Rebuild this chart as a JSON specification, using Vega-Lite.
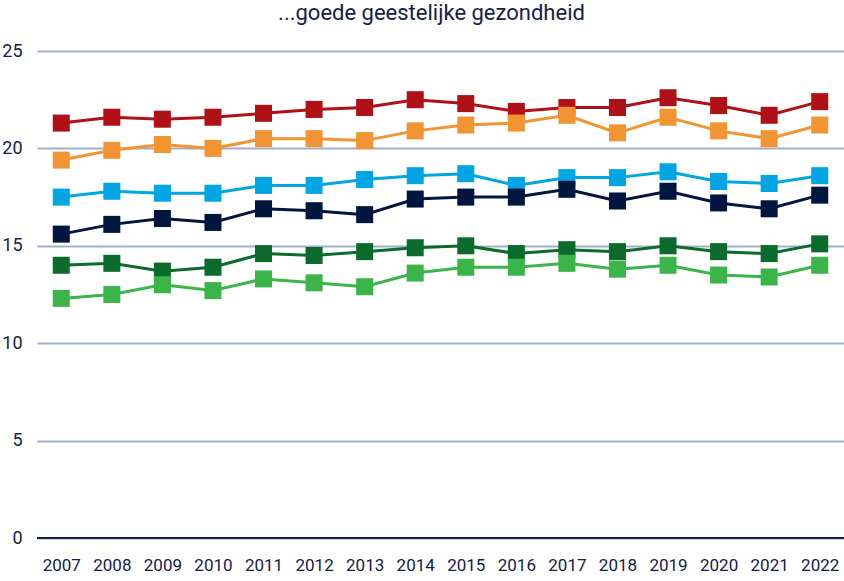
{
  "$schema": "https://vega.github.io/schema/vega-lite/v6.json",
  "autosize": "none",
  "width": 807,
  "height": 487,
  "padding": {"left": 37, "top": 51, "right": 0, "bottom": 43},
  "background": "white",
  "title": {
    "text": "...goede geestelijke gezondheid",
    "font": "Roboto",
    "fontSize": 22,
    "fontWeight": "normal",
    "color": "#14204a",
    "anchor": "middle",
    "offset": 17,
    "dx": -9
  },
  "config": {
    "view": {"stroke": null},
    "axis": {"labelFont": "Roboto", "labelColor": "#14204a"}
  },
  "datasets": {
    "d": [
      {"jaar": "2007", "groep": "A", "waarde": 21.3},
      {"jaar": "2008", "groep": "A", "waarde": 21.6},
      {"jaar": "2009", "groep": "A", "waarde": 21.5},
      {"jaar": "2010", "groep": "A", "waarde": 21.6},
      {"jaar": "2011", "groep": "A", "waarde": 21.8},
      {"jaar": "2012", "groep": "A", "waarde": 22.0},
      {"jaar": "2013", "groep": "A", "waarde": 22.1},
      {"jaar": "2014", "groep": "A", "waarde": 22.5},
      {"jaar": "2015", "groep": "A", "waarde": 22.3},
      {"jaar": "2016", "groep": "A", "waarde": 21.9},
      {"jaar": "2017", "groep": "A", "waarde": 22.1},
      {"jaar": "2018", "groep": "A", "waarde": 22.1},
      {"jaar": "2019", "groep": "A", "waarde": 22.6},
      {"jaar": "2020", "groep": "A", "waarde": 22.2},
      {"jaar": "2021", "groep": "A", "waarde": 21.7},
      {"jaar": "2022", "groep": "A", "waarde": 22.4},
      {"jaar": "2007", "groep": "B", "waarde": 19.4},
      {"jaar": "2008", "groep": "B", "waarde": 19.9},
      {"jaar": "2009", "groep": "B", "waarde": 20.2},
      {"jaar": "2010", "groep": "B", "waarde": 20.0},
      {"jaar": "2011", "groep": "B", "waarde": 20.5},
      {"jaar": "2012", "groep": "B", "waarde": 20.5},
      {"jaar": "2013", "groep": "B", "waarde": 20.4},
      {"jaar": "2014", "groep": "B", "waarde": 20.9},
      {"jaar": "2015", "groep": "B", "waarde": 21.2},
      {"jaar": "2016", "groep": "B", "waarde": 21.3},
      {"jaar": "2017", "groep": "B", "waarde": 21.7},
      {"jaar": "2018", "groep": "B", "waarde": 20.8},
      {"jaar": "2019", "groep": "B", "waarde": 21.6},
      {"jaar": "2020", "groep": "B", "waarde": 20.9},
      {"jaar": "2021", "groep": "B", "waarde": 20.5},
      {"jaar": "2022", "groep": "B", "waarde": 21.2},
      {"jaar": "2007", "groep": "C", "waarde": 17.5},
      {"jaar": "2008", "groep": "C", "waarde": 17.8},
      {"jaar": "2009", "groep": "C", "waarde": 17.7},
      {"jaar": "2010", "groep": "C", "waarde": 17.7},
      {"jaar": "2011", "groep": "C", "waarde": 18.1},
      {"jaar": "2012", "groep": "C", "waarde": 18.1},
      {"jaar": "2013", "groep": "C", "waarde": 18.4},
      {"jaar": "2014", "groep": "C", "waarde": 18.6},
      {"jaar": "2015", "groep": "C", "waarde": 18.7},
      {"jaar": "2016", "groep": "C", "waarde": 18.1},
      {"jaar": "2017", "groep": "C", "waarde": 18.5},
      {"jaar": "2018", "groep": "C", "waarde": 18.5},
      {"jaar": "2019", "groep": "C", "waarde": 18.8},
      {"jaar": "2020", "groep": "C", "waarde": 18.3},
      {"jaar": "2021", "groep": "C", "waarde": 18.2},
      {"jaar": "2022", "groep": "C", "waarde": 18.6},
      {"jaar": "2007", "groep": "D", "waarde": 15.6},
      {"jaar": "2008", "groep": "D", "waarde": 16.1},
      {"jaar": "2009", "groep": "D", "waarde": 16.4},
      {"jaar": "2010", "groep": "D", "waarde": 16.2},
      {"jaar": "2011", "groep": "D", "waarde": 16.9},
      {"jaar": "2012", "groep": "D", "waarde": 16.8},
      {"jaar": "2013", "groep": "D", "waarde": 16.6},
      {"jaar": "2014", "groep": "D", "waarde": 17.4},
      {"jaar": "2015", "groep": "D", "waarde": 17.5},
      {"jaar": "2016", "groep": "D", "waarde": 17.5},
      {"jaar": "2017", "groep": "D", "waarde": 17.9},
      {"jaar": "2018", "groep": "D", "waarde": 17.3},
      {"jaar": "2019", "groep": "D", "waarde": 17.8},
      {"jaar": "2020", "groep": "D", "waarde": 17.2},
      {"jaar": "2021", "groep": "D", "waarde": 16.9},
      {"jaar": "2022", "groep": "D", "waarde": 17.6},
      {"jaar": "2007", "groep": "E", "waarde": 14.0},
      {"jaar": "2008", "groep": "E", "waarde": 14.1},
      {"jaar": "2009", "groep": "E", "waarde": 13.7},
      {"jaar": "2010", "groep": "E", "waarde": 13.9},
      {"jaar": "2011", "groep": "E", "waarde": 14.6},
      {"jaar": "2012", "groep": "E", "waarde": 14.5},
      {"jaar": "2013", "groep": "E", "waarde": 14.7},
      {"jaar": "2014", "groep": "E", "waarde": 14.9},
      {"jaar": "2015", "groep": "E", "waarde": 15.0},
      {"jaar": "2016", "groep": "E", "waarde": 14.6},
      {"jaar": "2017", "groep": "E", "waarde": 14.8},
      {"jaar": "2018", "groep": "E", "waarde": 14.7},
      {"jaar": "2019", "groep": "E", "waarde": 15.0},
      {"jaar": "2020", "groep": "E", "waarde": 14.7},
      {"jaar": "2021", "groep": "E", "waarde": 14.6},
      {"jaar": "2022", "groep": "E", "waarde": 15.1},
      {"jaar": "2007", "groep": "F", "waarde": 12.3},
      {"jaar": "2008", "groep": "F", "waarde": 12.5},
      {"jaar": "2009", "groep": "F", "waarde": 13.0},
      {"jaar": "2010", "groep": "F", "waarde": 12.7},
      {"jaar": "2011", "groep": "F", "waarde": 13.3},
      {"jaar": "2012", "groep": "F", "waarde": 13.1},
      {"jaar": "2013", "groep": "F", "waarde": 12.9},
      {"jaar": "2014", "groep": "F", "waarde": 13.6},
      {"jaar": "2015", "groep": "F", "waarde": 13.9},
      {"jaar": "2016", "groep": "F", "waarde": 13.9},
      {"jaar": "2017", "groep": "F", "waarde": 14.1},
      {"jaar": "2018", "groep": "F", "waarde": 13.8},
      {"jaar": "2019", "groep": "F", "waarde": 14.0},
      {"jaar": "2020", "groep": "F", "waarde": 13.5},
      {"jaar": "2021", "groep": "F", "waarde": 13.4},
      {"jaar": "2022", "groep": "F", "waarde": 14.0}
    ],
    "nul": [{"y": 0}]
  },
  "layer": [
    {
      "data": {"name": "d"},
      "mark": {"type": "line", "strokeWidth": 3},
      "encoding": {
        "x": {
          "field": "jaar", "type": "ordinal",
          "scale": {"type": "point", "padding": 0.48},
          "axis": {"title": null, "domain": false, "ticks": false, "labelAngle": 0, "labelPadding": 19, "labelFontSize": 17}
        },
        "y": {
          "field": "waarde", "type": "quantitative",
          "scale": {"domain": [0, 25], "nice": false},
          "axis": {"title": null, "values": [0, 5, 10, 15, 20, 25], "domain": false, "ticks": false, "labelPadding": 15, "gridColor": "#9fafc8", "gridWidth": 2, "labelFontSize": 18}
        },
        "color": {
          "field": "groep", "type": "nominal",
          "scale": {"domain": ["A", "B", "C", "D", "E", "F"], "range": ["#b01117", "#f39433", "#00a5e3", "#00163f", "#0b6b2c", "#3bb54a"]},
          "legend": null
        }
      }
    },
    {
      "data": {"name": "nul"},
      "mark": {"type": "rule", "color": "#14204a", "strokeWidth": 2},
      "encoding": {"y": {"field": "y", "type": "quantitative"}}
    },
    {
      "data": {"name": "d"},
      "mark": {"type": "point", "shape": "square", "filled": true, "opacity": 1, "size": 290},
      "encoding": {
        "x": {"field": "jaar", "type": "ordinal"},
        "y": {"field": "waarde", "type": "quantitative"},
        "color": {"field": "groep", "type": "nominal", "legend": null}
      }
    }
  ]
}
